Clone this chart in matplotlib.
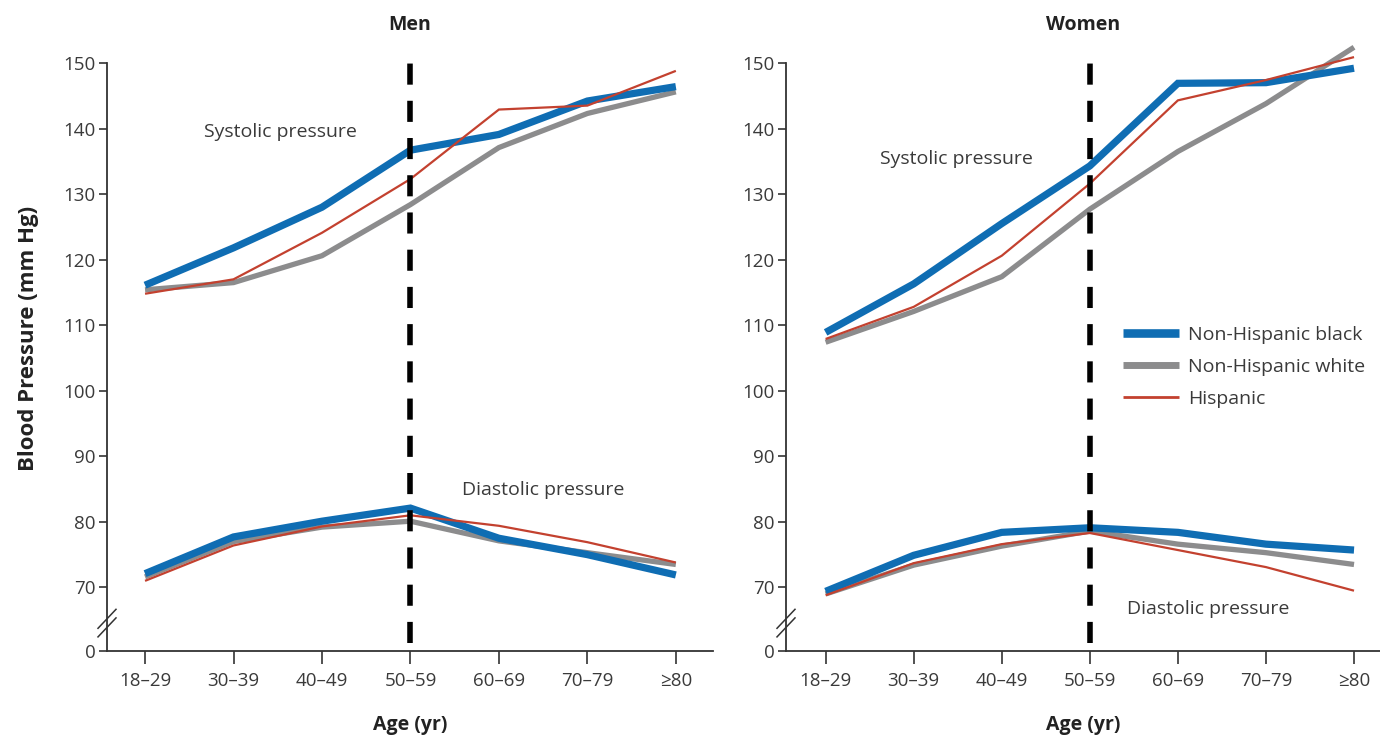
import matplotlib
matplotlib.use("Agg")
import matplotlib.pyplot as plt
from matplotlib.lines import Line2D

plt.rcParams['font.family'] = ['Open Sans', 'DejaVu Sans']

age_groups = ["18\u201329", "30\u201339", "40\u201349", "50\u201359", "60\u201369", "70\u201379", "\u226580"]
series_names = ["Non-Hispanic black", "Non-Hispanic white", "Hispanic"]

# Men, mm Hg
men_sys_black = [116.1, 121.8, 128.0, 136.7, 139.1, 144.2, 146.4]
men_sys_white = [115.4, 116.5, 120.6, 128.4, 137.1, 142.3, 145.6]
men_sys_hisp = [114.8, 117.0, 124.1, 132.3, 142.9, 143.5, 148.8]
men_dia_black = [72.1, 77.7, 80.1, 82.1, 77.5, 75.0, 71.9]
men_dia_white = [71.6, 77.0, 79.2, 80.1, 77.1, 75.3, 73.5]
men_dia_hisp = [71.0, 76.4, 79.3, 81.0, 79.4, 76.9, 73.8]

# Women, mm Hg
wom_sys_black = [108.9, 116.3, 125.5, 134.3, 146.9, 147.0, 149.2]
wom_sys_white = [107.4, 112.1, 117.4, 127.7, 136.5, 143.8, 152.4]
wom_sys_hisp = [107.9, 112.8, 120.6, 131.6, 144.3, 147.4, 150.9]
wom_dia_black = [69.4, 74.9, 78.4, 79.1, 78.4, 76.6, 75.7]
wom_dia_white = [69.0, 73.4, 76.3, 78.6, 76.6, 75.3, 73.5]
wom_dia_hisp = [68.8, 73.7, 76.6, 78.3, 75.7, 73.1, 69.5]

y_ticks = [70, 80, 90, 100, 110, 120, 130, 140, 150]

BLUE = "#0f6db3"
GRAY = "#8c8c8d"
RED = "#c3412f"
AXC = "#333333"
TXT = "#3a3a3a"

ZERO_POS = 60.3   # where the broken axis places its "0"
styles = [(BLUE, 5.2, 3), (GRAY, 3.8, 2), (RED, 1.6, 4)]
legend_lw = [6.2, 5.0, 2.0]

W, H = 1380, 741
fig = plt.figure(figsize=(W / 100, H / 100), dpi=100)
ax_m = fig.add_axes([107 / W, 90 / H, 606 / W, 588 / H])
ax_w = fig.add_axes([786 / W, 90 / H, 594 / W, 588 / H])

x = list(range(len(age_groups)))


def draw_panel(ax, sys_sets, dia_sets, xlim, title, width_px):
    ax.set_xlim(*xlim)
    ax.set_ylim(ZERO_POS, 150)
    for vals_s, vals_d, (c, lw, z) in zip(sys_sets, dia_sets, styles):
        for vals in (vals_s, vals_d):
            ax.plot(x, vals, color=c, lw=lw, zorder=z, clip_on=False,
                    solid_joinstyle='miter', solid_capstyle='butt')
    # dashed reference at age 50-59
    ax.plot([3, 3], [61.5, 150], color="black", lw=4.0, ls=(0, (3.8, 2.9)),
            zorder=5, clip_on=False, dash_capstyle='butt')
    for s in ("top", "right"):
        ax.spines[s].set_visible(False)
    for s in ("left", "bottom"):
        ax.spines[s].set_color(AXC)
        ax.spines[s].set_linewidth(1.3)
    ax.set_yticks([ZERO_POS] + y_ticks)
    ax.set_yticklabels(["0"] + [str(v) for v in y_ticks])
    ax.set_xticks(x)
    ax.set_xticklabels(age_groups)
    ax.tick_params(axis='y', length=6, width=1.2, color=AXC, labelsize=13.5,
                   labelcolor=TXT, pad=2)
    ax.tick_params(axis='x', length=9, width=1.2, color=AXC, labelsize=13.5,
                   labelcolor=TXT, pad=6)
    ax.set_title(title, fontsize=14, fontweight='bold', color="#222222", pad=24)
    ax.set_xlabel("Age (yr)", fontsize=14, fontweight='bold', color="#222222",
                  labelpad=18)
    # axis break marks: two short parallel diagonals across the spine
    trans = ax.get_yaxis_transform()
    half = 9.0 / width_px
    per_px = (150 - ZERO_POS) / 588.0
    for cy in (63.9, 64.6 + 4 * per_px):
        ax.plot([-half, half], [cy - 9.5 * per_px, cy + 9.5 * per_px],
                transform=trans, color=AXC, lw=1.1, clip_on=False, zorder=6)


draw_panel(ax_m, [men_sys_black, men_sys_white, men_sys_hisp],
           [men_dia_black, men_dia_white, men_dia_hisp], (-0.43, 6.42), "Men", 606)
draw_panel(ax_w, [wom_sys_black, wom_sys_white, wom_sys_hisp],
           [wom_dia_black, wom_dia_white, wom_dia_hisp], (-0.45, 6.295), "Women", 594)

ax_m.set_ylabel("Blood Pressure (mm Hg)", fontsize=16, fontweight='bold',
                color="#222222")
ax_m.yaxis.set_label_coords(-68 / 606, (651 - 338) / 588)

lab = dict(fontsize=14, color=TXT, ha='center', va='center')
ax_m.text(1.53, 139.4, "Systolic pressure", **lab)
ax_m.text(4.5, 84.9, "Diastolic pressure", **lab)
ax_w.text(1.49, 135.4, "Systolic pressure", **lab)
ax_w.text(4.34, 66.7, "Diastolic pressure", **lab)

handles = [Line2D([], [], color=c, lw=lw, solid_capstyle='butt')
           for (c, _, _), lw in zip(styles, legend_lw)]
ax_w.legend(handles, series_names, loc='upper left',
            bbox_to_anchor=(1123 / W, 1 - 326 / H), bbox_transform=fig.transFigure,
            frameon=False, fontsize=14, handlelength=2.9, handletextpad=0.45,
            labelspacing=0.72, labelcolor=TXT, borderaxespad=0, borderpad=0)

fig.savefig("out.png", dpi=100)
